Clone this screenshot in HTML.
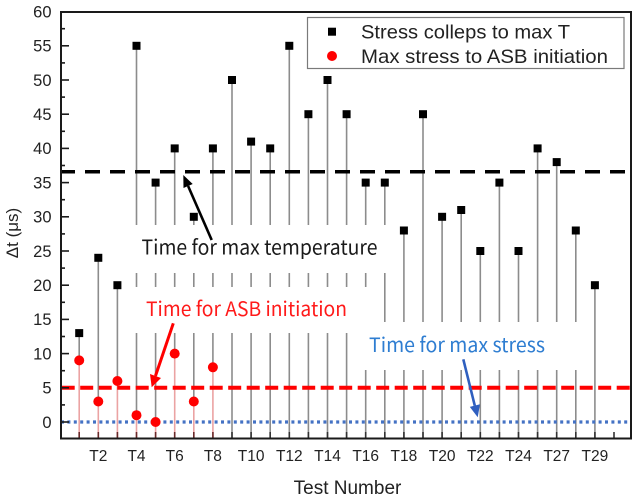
<!DOCTYPE html>
<html>
<head>
<meta charset="utf-8">
<style>
  html, body { margin:0; padding:0; background:#fff; }
  svg { display:block; }
  .tk { font-family:"Liberation Sans", Arial, sans-serif; fill:#222; }
  .ann { font-family:"Noto Sans CJK SC", "Liberation Sans", sans-serif; }
</style>
</head>
<body>
<svg width="640" height="501" viewBox="0 0 640 501" xmlns="http://www.w3.org/2000/svg">
  <rect x="0" y="0" width="640" height="501" fill="#fff"/>

  <!-- gray stems -->
  <g stroke="#8c8c8c" stroke-width="1.6">
    <line x1="79.2" y1="333.1" x2="79.2" y2="360.4"/>
    <line x1="98.3" y1="257.8" x2="98.3" y2="401.5"/>
    <line x1="117.4" y1="285.2" x2="117.4" y2="381"/>
    <line x1="136.5" y1="45.8" x2="136.5" y2="415.2"/>
    <line x1="155.6" y1="182.6" x2="155.6" y2="422"/>
    <line x1="174.7" y1="148.4" x2="174.7" y2="353.6"/>
    <line x1="193.8" y1="216.8" x2="193.8" y2="401.5"/>
    <line x1="212.9" y1="148.4" x2="212.9" y2="367.3"/>
    <line x1="232.0" y1="80" x2="232.0" y2="438.5"/>
    <line x1="251.1" y1="141.6" x2="251.1" y2="438.5"/>
    <line x1="270.2" y1="148.4" x2="270.2" y2="438.5"/>
    <line x1="289.3" y1="45.8" x2="289.3" y2="438.5"/>
    <line x1="308.4" y1="114.2" x2="308.4" y2="438.5"/>
    <line x1="327.5" y1="80" x2="327.5" y2="438.5"/>
    <line x1="346.6" y1="114.2" x2="346.6" y2="438.5"/>
    <line x1="365.7" y1="182.6" x2="365.7" y2="438.5"/>
    <line x1="384.8" y1="182.6" x2="384.8" y2="438.5"/>
    <line x1="403.9" y1="230.5" x2="403.9" y2="438.5"/>
    <line x1="423.0" y1="114.2" x2="423.0" y2="438.5"/>
    <line x1="442.1" y1="216.8" x2="442.1" y2="438.5"/>
    <line x1="461.2" y1="210" x2="461.2" y2="438.5"/>
    <line x1="480.3" y1="251" x2="480.3" y2="438.5"/>
    <line x1="499.4" y1="182.6" x2="499.4" y2="438.5"/>
    <line x1="518.5" y1="251" x2="518.5" y2="438.5"/>
    <line x1="537.6" y1="148.4" x2="537.6" y2="438.5"/>
    <line x1="556.7" y1="162.1" x2="556.7" y2="438.5"/>
    <line x1="575.8" y1="230.5" x2="575.8" y2="438.5"/>
    <line x1="594.9" y1="285.2" x2="594.9" y2="438.5"/>
  </g>

  <!-- pink stems under circles -->
  <g stroke="#eba3a3" stroke-width="1.6">
    <line x1="79.2" y1="360.4" x2="79.2" y2="438.5"/>
    <line x1="98.3" y1="401.5" x2="98.3" y2="438.5"/>
    <line x1="117.4" y1="381" x2="117.4" y2="438.5"/>
    <line x1="136.5" y1="415.2" x2="136.5" y2="438.5"/>
    <line x1="155.6" y1="422" x2="155.6" y2="438.5"/>
    <line x1="174.7" y1="353.6" x2="174.7" y2="438.5"/>
    <line x1="193.8" y1="401.5" x2="193.8" y2="438.5"/>
    <line x1="212.9" y1="367.3" x2="212.9" y2="438.5"/>
  </g>

  <!-- white text boxes covering stems -->
  <rect x="126" y="225" width="266" height="48" fill="#fff"/>
  <rect x="127" y="287" width="248" height="46" fill="#fff"/>
  <rect x="355" y="322" width="231" height="48" fill="#fff"/>

  <!-- bottom ticks -->
  <g stroke="#333" stroke-width="1.6">
    <line x1="232.0" y1="432" x2="232.0" y2="438.5"/>
    <line x1="251.1" y1="432" x2="251.1" y2="438.5"/>
    <line x1="270.2" y1="432" x2="270.2" y2="438.5"/>
    <line x1="289.3" y1="432" x2="289.3" y2="438.5"/>
    <line x1="308.4" y1="432" x2="308.4" y2="438.5"/>
    <line x1="327.5" y1="432" x2="327.5" y2="438.5"/>
    <line x1="346.6" y1="432" x2="346.6" y2="438.5"/>
    <line x1="365.7" y1="432" x2="365.7" y2="438.5"/>
    <line x1="384.8" y1="432" x2="384.8" y2="438.5"/>
    <line x1="403.9" y1="432" x2="403.9" y2="438.5"/>
    <line x1="423.0" y1="432" x2="423.0" y2="438.5"/>
    <line x1="442.1" y1="432" x2="442.1" y2="438.5"/>
    <line x1="461.2" y1="432" x2="461.2" y2="438.5"/>
    <line x1="480.3" y1="432" x2="480.3" y2="438.5"/>
    <line x1="499.4" y1="432" x2="499.4" y2="438.5"/>
    <line x1="518.5" y1="432" x2="518.5" y2="438.5"/>
    <line x1="537.6" y1="432" x2="537.6" y2="438.5"/>
    <line x1="556.7" y1="432" x2="556.7" y2="438.5"/>
    <line x1="575.8" y1="432" x2="575.8" y2="438.5"/>
    <line x1="594.9" y1="432" x2="594.9" y2="438.5"/>
    <line x1="614.0" y1="432" x2="614.0" y2="438.5"/>
  </g>
  <g stroke="#6a2a2a" stroke-width="1.6">
    <line x1="79.2" y1="432" x2="79.2" y2="438.5"/>
    <line x1="98.3" y1="432" x2="98.3" y2="438.5"/>
    <line x1="117.4" y1="432" x2="117.4" y2="438.5"/>
    <line x1="136.5" y1="432" x2="136.5" y2="438.5"/>
    <line x1="155.6" y1="432" x2="155.6" y2="438.5"/>
    <line x1="174.7" y1="432" x2="174.7" y2="438.5"/>
    <line x1="193.8" y1="432" x2="193.8" y2="438.5"/>
    <line x1="212.9" y1="432" x2="212.9" y2="438.5"/>
  </g>

  <!-- horizontal reference lines -->
  <line x1="60" y1="171.8" x2="631" y2="171.8" stroke="#000" stroke-width="3.5" stroke-dasharray="15 10"/>
  <line x1="61.7" y1="387.8" x2="631" y2="387.8" stroke="#ff0000" stroke-width="4" stroke-dasharray="13 5.5"/>
  <line x1="61" y1="422" x2="631" y2="422" stroke="#4472c4" stroke-width="3.2" stroke-dasharray="3 3.4"/>

  <!-- squares -->
  <g fill="#000">
    <rect x="75.2" y="329.1" width="8" height="8"/>
    <rect x="94.3" y="253.8" width="8" height="8"/>
    <rect x="113.4" y="281.2" width="8" height="8"/>
    <rect x="132.5" y="41.8" width="8" height="8"/>
    <rect x="151.6" y="178.6" width="8" height="8"/>
    <rect x="170.7" y="144.4" width="8" height="8"/>
    <rect x="189.8" y="212.8" width="8" height="8"/>
    <rect x="208.9" y="144.4" width="8" height="8"/>
    <rect x="228.0" y="76" width="8" height="8"/>
    <rect x="247.1" y="137.6" width="8" height="8"/>
    <rect x="266.2" y="144.4" width="8" height="8"/>
    <rect x="285.3" y="41.8" width="8" height="8"/>
    <rect x="304.4" y="110.2" width="8" height="8"/>
    <rect x="323.5" y="76" width="8" height="8"/>
    <rect x="342.6" y="110.2" width="8" height="8"/>
    <rect x="361.7" y="178.6" width="8" height="8"/>
    <rect x="380.8" y="178.6" width="8" height="8"/>
    <rect x="399.9" y="226.5" width="8" height="8"/>
    <rect x="419.0" y="110.2" width="8" height="8"/>
    <rect x="438.1" y="212.8" width="8" height="8"/>
    <rect x="457.2" y="206" width="8" height="8"/>
    <rect x="476.3" y="247" width="8" height="8"/>
    <rect x="495.4" y="178.6" width="8" height="8"/>
    <rect x="514.5" y="247" width="8" height="8"/>
    <rect x="533.6" y="144.4" width="8" height="8"/>
    <rect x="552.7" y="158.1" width="8" height="8"/>
    <rect x="571.8" y="226.5" width="8" height="8"/>
    <rect x="590.9" y="281.2" width="8" height="8"/>
  </g>

  <!-- circles -->
  <g fill="#ff0000">
    <circle cx="79.2" cy="360.4" r="5"/>
    <circle cx="98.3" cy="401.5" r="5"/>
    <circle cx="117.4" cy="381" r="5"/>
    <circle cx="136.5" cy="415.2" r="5"/>
    <circle cx="155.6" cy="422" r="5"/>
    <circle cx="174.7" cy="353.6" r="5"/>
    <circle cx="193.8" cy="401.5" r="5"/>
    <circle cx="212.9" cy="367.3" r="5"/>
  </g>

  <!-- y ticks -->
  <g stroke="#1a1a1a" stroke-width="1.6">
    <line x1="61" y1="422" x2="69" y2="422"/>
    <line x1="61" y1="387.8" x2="69" y2="387.8"/>
    <line x1="61" y1="353.6" x2="69" y2="353.6"/>
    <line x1="61" y1="319.4" x2="69" y2="319.4"/>
    <line x1="61" y1="285.2" x2="69" y2="285.2"/>
    <line x1="61" y1="251" x2="69" y2="251"/>
    <line x1="61" y1="216.8" x2="69" y2="216.8"/>
    <line x1="61" y1="182.6" x2="69" y2="182.6"/>
    <line x1="61" y1="148.4" x2="69" y2="148.4"/>
    <line x1="61" y1="114.2" x2="69" y2="114.2"/>
    <line x1="61" y1="80" x2="69" y2="80"/>
    <line x1="61" y1="45.8" x2="69" y2="45.8"/>
    <line x1="61" y1="404.9" x2="65" y2="404.9"/>
    <line x1="61" y1="370.7" x2="65" y2="370.7"/>
    <line x1="61" y1="336.5" x2="65" y2="336.5"/>
    <line x1="61" y1="302.3" x2="65" y2="302.3"/>
    <line x1="61" y1="268.1" x2="65" y2="268.1"/>
    <line x1="61" y1="233.9" x2="65" y2="233.9"/>
    <line x1="61" y1="199.7" x2="65" y2="199.7"/>
    <line x1="61" y1="165.5" x2="65" y2="165.5"/>
    <line x1="61" y1="131.3" x2="65" y2="131.3"/>
    <line x1="61" y1="97.1" x2="65" y2="97.1"/>
    <line x1="61" y1="62.9" x2="65" y2="62.9"/>
    <line x1="61" y1="28.7" x2="65" y2="28.7"/>
  </g>

  <!-- frame -->
  <rect x="61" y="12" width="570" height="426.5" fill="none" stroke="#1a1a1a" stroke-width="2"/>

  <!-- y tick labels -->
  <g class="tk" font-size="16.5" text-anchor="end">
    <text x="51.5" y="427.8">0</text>
    <text x="51.5" y="393.6">5</text>
    <text x="51.5" y="359.4">10</text>
    <text x="51.5" y="325.2">15</text>
    <text x="51.5" y="291">20</text>
    <text x="51.5" y="256.8">25</text>
    <text x="51.5" y="222.6">30</text>
    <text x="51.5" y="188.4">35</text>
    <text x="51.5" y="154.2">40</text>
    <text x="51.5" y="120">45</text>
    <text x="51.5" y="85.8">50</text>
    <text x="51.5" y="51.6">55</text>
    <text x="51.5" y="17.4">60</text>
  </g>

  <!-- x tick labels -->
  <g class="tk" font-size="15.5" text-anchor="middle">
    <text x="98.3" y="461">T2</text>
    <text x="136.5" y="461">T4</text>
    <text x="174.7" y="461">T6</text>
    <text x="212.9" y="461">T8</text>
    <text x="251.1" y="461">T10</text>
    <text x="289.3" y="461">T12</text>
    <text x="327.5" y="461">T14</text>
    <text x="365.7" y="461">T16</text>
    <text x="403.9" y="461">T18</text>
    <text x="442.1" y="461">T20</text>
    <text x="480.3" y="461">T22</text>
    <text x="518.5" y="461">T24</text>
    <text x="556.7" y="461">T27</text>
    <text x="594.9" y="461">T29</text>
  </g>

  <!-- axis titles -->
  <text class="tk" x="347.5" y="494" font-size="19" text-anchor="middle">Test Number</text>
  <text class="tk" transform="translate(18,233) rotate(-90)" font-size="17" text-anchor="middle">Δt (μs)</text>

  <!-- legend -->
  <rect x="307.5" y="17.5" width="316.5" height="51" fill="#fff" stroke="#7a7a7a" stroke-width="1.2"/>
  <rect x="328" y="27.7" width="8" height="8" fill="#000"/>
  <circle cx="332" cy="56" r="5" fill="#ff0000"/>
  <text class="tk" x="361" y="38.5" font-size="19.5" textLength="209" lengthAdjust="spacingAndGlyphs" fill="#1a1a1a">Stress colleps to max T</text>
  <text class="tk" x="361" y="63" font-size="19.5" textLength="247" lengthAdjust="spacingAndGlyphs" fill="#1a1a1a">Max stress to ASB initiation</text>

  <!-- annotations -->
  <text class="ann" x="141.5" y="254.5" font-size="20.5" fill="#1a1a1a" textLength="236" lengthAdjust="spacingAndGlyphs">Time for max temperature</text>
  <text class="ann" x="146" y="316" font-size="20" fill="#ff1a1a" textLength="201" lengthAdjust="spacingAndGlyphs">Time for ASB initiation</text>
  <text class="ann" x="369" y="352" font-size="20" fill="#2e7dd1" textLength="176" lengthAdjust="spacingAndGlyphs">Time for max stress</text>

  <!-- arrows -->
  <line x1="211.7" y1="240" x2="188.1" y2="186" stroke="#000" stroke-width="2.6"/>
  <polygon points="183.3,175 192.7,184 183.5,188" fill="#000"/>

  <line x1="173.3" y1="323.3" x2="155.5" y2="375.9" stroke="#ff0000" stroke-width="3"/>
  <polygon points="151.7,387.3 161,378 150,374" fill="#ff0000"/>

  <line x1="463.3" y1="359.3" x2="474.8" y2="405.7" stroke="#2f5fbf" stroke-width="2.6"/>
  <polygon points="477.7,417.3 480,404.3 469.8,406.9" fill="#2f5fbf"/>
</svg>
</body>
</html>
